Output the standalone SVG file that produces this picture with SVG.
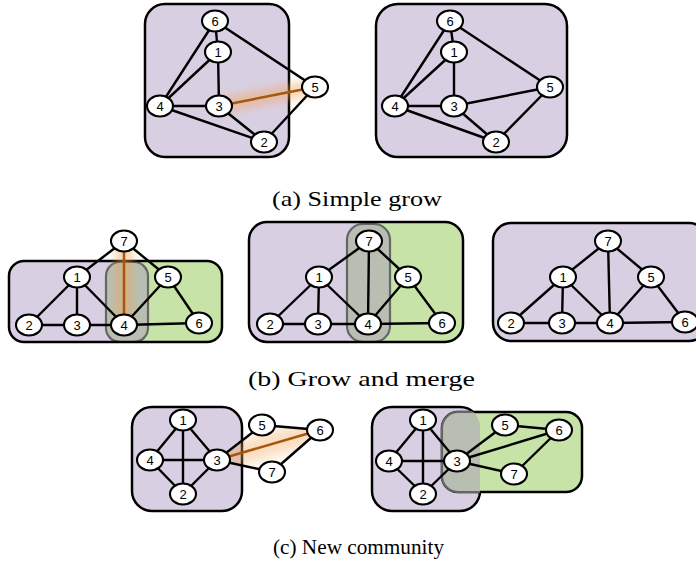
<svg xmlns="http://www.w3.org/2000/svg" width="696" height="570" viewBox="0 0 696 570">
<style>
.bg{fill:#ffffff}
.pur{fill:#d9cfe3;stroke:#000;stroke-width:2.5}
.purf{fill:#d9cfe3}
.grn{fill:#c7e3a8;stroke:#000;stroke-width:2.5}
.grnf{fill:#c7e3a8}
.ov{fill:#b8bfb2;stroke:#666;stroke-width:2.2}
.frame{fill:none;stroke:#000;stroke-width:2.5}
.e line{stroke:#000;stroke-width:2.4}
.e line.hot{stroke:#a8560c;stroke-width:2.5}
.e line.glow{stroke:#f0a458;opacity:0.45;fill:none}
.n ellipse{fill:#fff;stroke:#000;stroke-width:2.1}
.n text{font-family:"Liberation Sans",Arial,sans-serif;font-size:13px;text-anchor:middle;fill:#000}
.cap{font-family:"Liberation Serif","Times New Roman",serif;font-size:21px;text-anchor:middle;fill:#000}
</style>
<defs>
<filter id="blur" filterUnits="userSpaceOnUse" x="0" y="0" width="696" height="570">
<feGaussianBlur stdDeviation="4"/>
</filter>
<filter id="blur2" filterUnits="userSpaceOnUse" x="0" y="0" width="696" height="570">
<feGaussianBlur stdDeviation="7"/>
</filter>
<clipPath id="cbL"><rect x="9" y="261" width="213" height="81" rx="15"/></clipPath>
<clipPath id="cbM"><rect x="249" y="222" width="214" height="120" rx="18"/></clipPath>
<clipPath id="ccR"><rect x="372" y="407" width="108" height="104" rx="20"/></clipPath>
<clipPath id="ccTri"><polygon points="217,460 262,425 320,430 272,472"/></clipPath>
</defs>
<rect class="bg" x="0" y="0" width="696" height="570"/>

<!-- ===== (a) left ===== -->
<g id="a1-community">
<rect class="pur" x="145" y="4" width="144" height="153" rx="20"/>
</g>
<g id="a1-connectors" class="e">
<line class="glow" x1="219" y1="106" x2="315" y2="87" style="stroke-width:16" filter="url(#blur)"/>
<line x1="215" y1="21" x2="218" y2="52"/>
<line x1="215" y1="21" x2="160" y2="106"/>
<line x1="215" y1="21" x2="315" y2="87"/>
<line x1="218" y1="52" x2="160" y2="106"/>
<line x1="218" y1="52" x2="219" y2="106"/>
<line x1="160" y1="106" x2="219" y2="106"/>
<line x1="160" y1="106" x2="264" y2="142"/>
<line x1="219" y1="106" x2="264" y2="142"/>
<line x1="315" y1="87" x2="264" y2="142"/>
<line class="hot" x1="219" y1="106" x2="315" y2="87"/>
</g>
<g id="a1-n6" class="n"><ellipse cx="215" cy="21" rx="13" ry="10.5"/><text x="215" y="25.5">6</text></g>
<g id="a1-n1" class="n"><ellipse cx="218" cy="52" rx="13" ry="10.5"/><text x="218" y="56.5">1</text></g>
<g id="a1-n4" class="n"><ellipse cx="160" cy="106" rx="13" ry="10.5"/><text x="160" y="110.5">4</text></g>
<g id="a1-n3" class="n"><ellipse cx="219" cy="106" rx="13" ry="10.5"/><text x="219" y="110.5">3</text></g>
<g id="a1-n5" class="n"><ellipse cx="315" cy="87" rx="13" ry="10.5"/><text x="315" y="91.5">5</text></g>
<g id="a1-n2" class="n"><ellipse cx="264" cy="142" rx="13" ry="10.5"/><text x="264" y="146.5">2</text></g>

<!-- ===== (a) right ===== -->
<g id="a2-community">
<rect class="pur" x="376" y="4" width="191" height="153" rx="22"/>
</g>
<g id="a2-connectors" class="e">
<line x1="450" y1="21" x2="454" y2="52"/>
<line x1="450" y1="21" x2="395" y2="106"/>
<line x1="450" y1="21" x2="550" y2="87"/>
<line x1="454" y1="52" x2="395" y2="106"/>
<line x1="454" y1="52" x2="454" y2="106"/>
<line x1="395" y1="106" x2="454" y2="106"/>
<line x1="395" y1="106" x2="496" y2="142"/>
<line x1="454" y1="106" x2="496" y2="142"/>
<line x1="550" y1="87" x2="496" y2="142"/>
<line x1="454" y1="106" x2="550" y2="87"/>
</g>
<g id="a2-n6" class="n"><ellipse cx="450" cy="21" rx="13" ry="10.5"/><text x="450" y="25.5">6</text></g>
<g id="a2-n1" class="n"><ellipse cx="454" cy="52" rx="13" ry="10.5"/><text x="454" y="56.5">1</text></g>
<g id="a2-n4" class="n"><ellipse cx="395" cy="106" rx="13" ry="10.5"/><text x="395" y="110.5">4</text></g>
<g id="a2-n3" class="n"><ellipse cx="454" cy="106" rx="13" ry="10.5"/><text x="454" y="110.5">3</text></g>
<g id="a2-n5" class="n"><ellipse cx="550" cy="87" rx="13" ry="10.5"/><text x="550" y="91.5">5</text></g>
<g id="a2-n2" class="n"><ellipse cx="496" cy="142" rx="13" ry="10.5"/><text x="496" y="146.5">2</text></g>

<text id="cap-a" class="cap" x="357" y="206" textLength="170" lengthAdjust="spacingAndGlyphs">(a) Simple grow</text>

<!-- ===== (b) left ===== -->
<g id="b1-communities">
<rect class="purf" x="9" y="261" width="213" height="81" rx="15"/>
<rect class="grnf" x="127" y="255" width="100" height="95" clip-path="url(#cbL)"/>
<rect class="ov" x="106" y="262" width="42" height="80" rx="14"/>
<rect class="frame" x="9" y="261" width="213" height="81" rx="15"/>
</g>
<g id="b1-connectors" class="e">
<line class="glow" x1="124" y1="241" x2="124" y2="325" style="stroke-width:18" filter="url(#blur)"/>
<line x1="124" y1="241" x2="77" y2="277"/>
<line x1="124" y1="241" x2="168" y2="277"/>
<line x1="77" y1="277" x2="29" y2="325"/>
<line x1="77" y1="277" x2="77" y2="325"/>
<line x1="77" y1="277" x2="124" y2="325"/>
<line x1="29" y1="325" x2="77" y2="325"/>
<line x1="77" y1="325" x2="124" y2="325"/>
<line x1="168" y1="277" x2="124" y2="325"/>
<line x1="168" y1="277" x2="199" y2="323"/>
<line x1="124" y1="325" x2="199" y2="323"/>
<line class="hot" x1="124" y1="241" x2="124" y2="325"/>
</g>
<g id="b1-n7" class="n"><ellipse cx="124" cy="241" rx="13" ry="10.5"/><text x="124" y="245.5">7</text></g>
<g id="b1-n1" class="n"><ellipse cx="77" cy="277" rx="13" ry="10.5"/><text x="77" y="281.5">1</text></g>
<g id="b1-n5" class="n"><ellipse cx="168" cy="277" rx="13" ry="10.5"/><text x="168" y="281.5">5</text></g>
<g id="b1-n2" class="n"><ellipse cx="29" cy="325" rx="13" ry="10.5"/><text x="29" y="329.5">2</text></g>
<g id="b1-n3" class="n"><ellipse cx="77" cy="325" rx="13" ry="10.5"/><text x="77" y="329.5">3</text></g>
<g id="b1-n4" class="n"><ellipse cx="124" cy="325" rx="13" ry="10.5"/><text x="124" y="329.5">4</text></g>
<g id="b1-n6" class="n"><ellipse cx="199" cy="323" rx="13" ry="10.5"/><text x="199" y="327.5">6</text></g>

<!-- ===== (b) middle ===== -->
<g id="b2-communities">
<rect class="purf" x="249" y="222" width="214" height="120" rx="18"/>
<rect class="grnf" x="368" y="215" width="100" height="130" clip-path="url(#cbM)"/>
<rect class="ov" x="347" y="224" width="43" height="118" rx="16"/>
<rect class="frame" x="249" y="222" width="214" height="120" rx="18"/>
</g>
<g id="b2-connectors" class="e">
<line x1="369" y1="241" x2="319" y2="277"/>
<line x1="369" y1="241" x2="408" y2="277"/>
<line x1="369" y1="241" x2="368" y2="324"/>
<line x1="319" y1="277" x2="270" y2="324"/>
<line x1="319" y1="277" x2="318" y2="324"/>
<line x1="319" y1="277" x2="368" y2="324"/>
<line x1="270" y1="324" x2="318" y2="324"/>
<line x1="318" y1="324" x2="368" y2="324"/>
<line x1="408" y1="277" x2="368" y2="324"/>
<line x1="408" y1="277" x2="442" y2="323"/>
<line x1="368" y1="324" x2="442" y2="323"/>
</g>
<g id="b2-n7" class="n"><ellipse cx="369" cy="241" rx="13" ry="10.5"/><text x="369" y="245.5">7</text></g>
<g id="b2-n1" class="n"><ellipse cx="319" cy="277" rx="13" ry="10.5"/><text x="319" y="281.5">1</text></g>
<g id="b2-n5" class="n"><ellipse cx="408" cy="277" rx="13" ry="10.5"/><text x="408" y="281.5">5</text></g>
<g id="b2-n2" class="n"><ellipse cx="270" cy="324" rx="13" ry="10.5"/><text x="270" y="328.5">2</text></g>
<g id="b2-n3" class="n"><ellipse cx="318" cy="324" rx="13" ry="10.5"/><text x="318" y="328.5">3</text></g>
<g id="b2-n4" class="n"><ellipse cx="368" cy="324" rx="13" ry="10.5"/><text x="368" y="328.5">4</text></g>
<g id="b2-n6" class="n"><ellipse cx="442" cy="323" rx="13" ry="10.5"/><text x="442" y="327.5">6</text></g>

<!-- ===== (b) right ===== -->
<g id="b3-community">
<rect class="pur" x="493" y="223" width="214" height="118" rx="18"/>
</g>
<g id="b3-connectors" class="e">
<line x1="608" y1="241" x2="563" y2="277"/>
<line x1="608" y1="241" x2="651" y2="277"/>
<line x1="608" y1="241" x2="610" y2="323"/>
<line x1="563" y1="277" x2="511" y2="323"/>
<line x1="563" y1="277" x2="562" y2="323"/>
<line x1="563" y1="277" x2="610" y2="323"/>
<line x1="511" y1="323" x2="562" y2="323"/>
<line x1="562" y1="323" x2="610" y2="323"/>
<line x1="651" y1="277" x2="610" y2="323"/>
<line x1="651" y1="277" x2="685" y2="322"/>
<line x1="610" y1="323" x2="685" y2="322"/>
</g>
<g id="b3-n7" class="n"><ellipse cx="608" cy="241" rx="13" ry="10.5"/><text x="608" y="245.5">7</text></g>
<g id="b3-n1" class="n"><ellipse cx="563" cy="277" rx="13" ry="10.5"/><text x="563" y="281.5">1</text></g>
<g id="b3-n5" class="n"><ellipse cx="651" cy="277" rx="13" ry="10.5"/><text x="651" y="281.5">5</text></g>
<g id="b3-n2" class="n"><ellipse cx="511" cy="323" rx="13" ry="10.5"/><text x="511" y="327.5">2</text></g>
<g id="b3-n3" class="n"><ellipse cx="562" cy="323" rx="13" ry="10.5"/><text x="562" y="327.5">3</text></g>
<g id="b3-n4" class="n"><ellipse cx="610" cy="323" rx="13" ry="10.5"/><text x="610" y="327.5">4</text></g>
<g id="b3-n6" class="n"><ellipse cx="685" cy="322" rx="13" ry="10.5"/><text x="685" y="326.5">6</text></g>

<text id="cap-b" class="cap" x="361.5" y="386" textLength="227" lengthAdjust="spacingAndGlyphs">(b) Grow and merge</text>

<!-- ===== (c) left ===== -->
<g id="c1-community">
<rect class="pur" x="132" y="407" width="110" height="104" rx="20"/>
</g>
<g id="c1-connectors" class="e">
<g clip-path="url(#ccTri)">
<line class="glow" x1="217" y1="460" x2="320" y2="430" style="stroke-width:24;opacity:0.4" filter="url(#blur2)"/>
</g>
<line x1="183" y1="420" x2="150" y2="460"/>
<line x1="183" y1="420" x2="217" y2="460"/>
<line x1="183" y1="420" x2="183" y2="494"/>
<line x1="150" y1="460" x2="217" y2="460"/>
<line x1="150" y1="460" x2="183" y2="494"/>
<line x1="217" y1="460" x2="183" y2="494"/>
<line x1="217" y1="460" x2="262" y2="425"/>
<line x1="262" y1="425" x2="320" y2="430"/>
<line x1="320" y1="430" x2="272" y2="472"/>
<line x1="217" y1="460" x2="272" y2="472"/>
<line class="hot" x1="217" y1="460" x2="320" y2="430"/>
</g>
<g id="c1-n1" class="n"><ellipse cx="183" cy="420" rx="13" ry="10.5"/><text x="183" y="424.5">1</text></g>
<g id="c1-n4" class="n"><ellipse cx="150" cy="460" rx="13" ry="10.5"/><text x="150" y="464.5">4</text></g>
<g id="c1-n3" class="n"><ellipse cx="217" cy="460" rx="13" ry="10.5"/><text x="217" y="464.5">3</text></g>
<g id="c1-n2" class="n"><ellipse cx="183" cy="494" rx="13" ry="10.5"/><text x="183" y="498.5">2</text></g>
<g id="c1-n5" class="n"><ellipse cx="262" cy="425" rx="13" ry="10.5"/><text x="262" y="429.5">5</text></g>
<g id="c1-n6" class="n"><ellipse cx="320" cy="430" rx="13" ry="10.5"/><text x="320" y="434.5">6</text></g>
<g id="c1-n7" class="n"><ellipse cx="272" cy="472" rx="13" ry="10.5"/><text x="272" y="476.5">7</text></g>

<!-- ===== (c) right ===== -->
<g id="c2-communities">
<rect class="pur" x="372" y="407" width="108" height="104" rx="20"/>
<rect class="grn" x="442" y="412" width="140" height="80" rx="16"/>
<g clip-path="url(#ccR)">
<rect class="ov" x="442" y="412" width="140" height="80" rx="16"/>
</g>
</g>
<g id="c2-connectors" class="e">
<line x1="423" y1="420" x2="389" y2="461"/>
<line x1="423" y1="420" x2="457" y2="461"/>
<line x1="423" y1="420" x2="423" y2="494"/>
<line x1="389" y1="461" x2="457" y2="461"/>
<line x1="389" y1="461" x2="423" y2="494"/>
<line x1="457" y1="461" x2="423" y2="494"/>
<line x1="457" y1="461" x2="505" y2="425"/>
<line x1="505" y1="425" x2="559" y2="430"/>
<line x1="457" y1="461" x2="559" y2="430"/>
<line x1="559" y1="430" x2="514" y2="474"/>
<line x1="457" y1="461" x2="514" y2="474"/>
</g>
<g id="c2-n1" class="n"><ellipse cx="423" cy="420" rx="13" ry="10.5"/><text x="423" y="424.5">1</text></g>
<g id="c2-n4" class="n"><ellipse cx="389" cy="461" rx="13" ry="10.5"/><text x="389" y="465.5">4</text></g>
<g id="c2-n3" class="n"><ellipse cx="457" cy="461" rx="13" ry="10.5"/><text x="457" y="465.5">3</text></g>
<g id="c2-n2" class="n"><ellipse cx="423" cy="494" rx="13" ry="10.5"/><text x="423" y="498.5">2</text></g>
<g id="c2-n5" class="n"><ellipse cx="505" cy="425" rx="13" ry="10.5"/><text x="505" y="429.5">5</text></g>
<g id="c2-n6" class="n"><ellipse cx="559" cy="430" rx="13" ry="10.5"/><text x="559" y="434.5">6</text></g>
<g id="c2-n7" class="n"><ellipse cx="514" cy="474" rx="13" ry="10.5"/><text x="514" y="478.5">7</text></g>

<text id="cap-c" class="cap" x="358.5" y="554" textLength="171" lengthAdjust="spacingAndGlyphs">(c) New community</text>
</svg>
